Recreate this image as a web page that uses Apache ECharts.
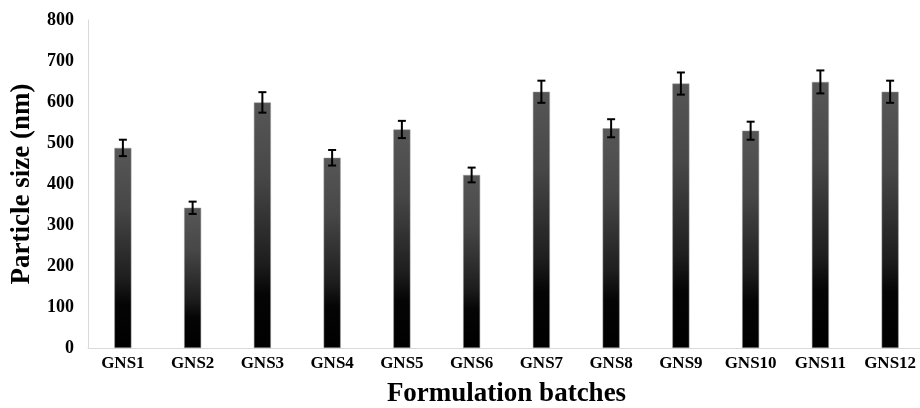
<!DOCTYPE html>
<html>
<head>
<meta charset="utf-8">
<title>Particle size</title>
<script src="https://cdn.jsdelivr.net/npm/echarts@6/dist/echarts.min.js"></script>
<style>
  html, body { margin: 0; padding: 0; background: #fff; }
  #chart { width: 920px; height: 408px; }
</style>
</head>
<body>
<div id="chart"></div>
<script>
// data
var batches = ["GNS1", "GNS2", "GNS3", "GNS4", "GNS5", "GNS6",
  "GNS7", "GNS8", "GNS9", "GNS10", "GNS11", "GNS12"];
var sizes = [488, 342, 599, 464, 533, 422, 625, 536, 645, 530, 649, 625];
var errors = [20, 15, 25, 19, 21, 18, 27, 22, 27, 22, 28, 27];
var yTicks = [0, 100, 200, 300, 400, 500, 600, 700, 800];

var serif = "Liberation Serif";

var errData = sizes.map(function(v, i) {
  return [i, v - errors[i], v + errors[i]];
});

var chart = echarts.init(document.getElementById("chart"));

chart.setOption({
  animation: false,
  grid: { left: 88, right: -5, top: 20, bottom: 60, containLabel: false, outerBoundsMode: "none" },
  xAxis: {
    type: "category",
    data: batches,
    name: "Formulation batches",
    nameLocation: "middle",
    nameGap: 33,
    nameTextStyle: { fontFamily: serif, fontWeight: "bold", fontSize: 27, color: "#000" },
    axisLine: { lineStyle: { color: "#d9d9d9", width: 1 } },
    axisTick: { show: false },
    axisLabel: { fontFamily: serif, fontWeight: "bold", fontSize: 17, color: "#000", margin: 7 }
  },
  yAxis: {
    type: "value",
    min: yTicks[0],
    max: yTicks[yTicks.length - 1],
    interval: 100,
    name: "Particle size (nm)",
    nameLocation: "middle",
    nameGap: 52,
    nameTextStyle: { fontFamily: serif, fontWeight: "bold", fontSize: 27, color: "#000" },
    axisLine: { show: true, lineStyle: { color: "#d9d9d9", width: 1 } },
    axisTick: { show: false },
    splitLine: { show: false },
    axisLabel: { fontFamily: serif, fontWeight: "bold", fontSize: 18, color: "#000", margin: 14 }
  },
  series: [
    {
      type: "bar",
      data: sizes,
      barWidth: 17,
      itemStyle: {
        color: new echarts.graphic.LinearGradient(0, 0, 0, 1, [
          { offset: 0, color: "#575757" },
          { offset: 0.3, color: "#474747" },
          { offset: 0.65, color: "#1e1e1e" },
          { offset: 0.78, color: "#050505" },
          { offset: 1, color: "#000" }
        ]),
        borderColor: "#999",
        borderWidth: 0.5
      }
    },
    {
      type: "custom",
      data: errData,
      z: 10,
      renderItem: function(params, api) {
        var x = api.value(0);
        var lo = api.coord([x, api.value(1)]);
        var hi = api.coord([x, api.value(2)]);
        var cap = 4;
        var st = { stroke: "#000", lineWidth: 2 };
        return {
          type: "group",
          children: [
            { type: "line", shape: { x1: hi[0], y1: hi[1], x2: lo[0], y2: lo[1] }, style: st },
            { type: "line", shape: { x1: hi[0] - cap, y1: hi[1], x2: hi[0] + cap, y2: hi[1] }, style: st },
            { type: "line", shape: { x1: lo[0] - cap, y1: lo[1], x2: lo[0] + cap, y2: lo[1] }, style: st }
          ]
        };
      }
    }
  ]
});
</script>
</body>
</html>
